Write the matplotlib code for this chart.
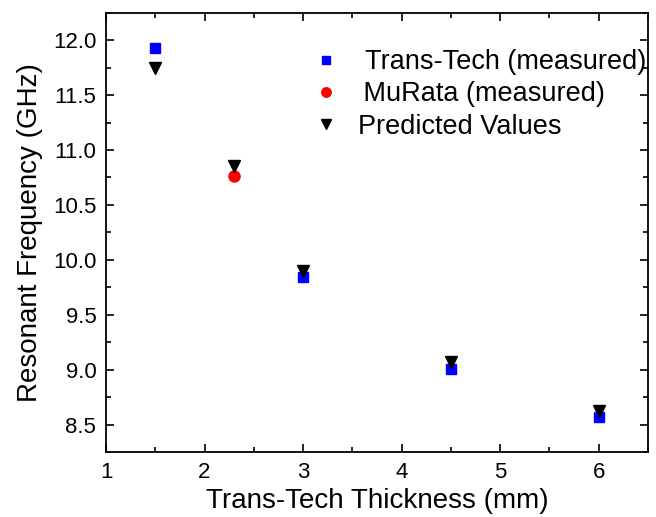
import numpy as np
import matplotlib
matplotlib.use('Agg')
import matplotlib.pyplot as plt
from matplotlib.ticker import MultipleLocator

plt.rcParams['font.family'] = ['Liberation Sans', 'DejaVu Sans']

# thickness (mm) and resonant frequency (GHz)
tt_x = [1.5, 3.0, 4.5, 6.0]
tt_y = [11.93, 9.84, 9.01, 8.57]
mu_x = [2.3]
mu_y = [10.76]
pred_x = [1.5, 2.3, 3.0, 4.5, 6.0]
pred_y = [11.75, 10.85, 9.90, 9.07, 8.62]

fig = plt.figure(figsize=(6.56, 5.17), dpi=100)
ax = fig.add_axes([0.1616, 0.1257, 0.8262, 0.8497])

ax.plot(tt_x, tt_y, 's', color='#0000ff', ms=6.7, mec='#0000ff', label=' Trans-Tech (measured)', zorder=3)
ax.plot(mu_x, mu_y, 'o', color='#ff0000', ms=8, mec='#ff0000', label='\u2009MuRata (measured)', zorder=3)
ax.plot(pred_x, pred_y, 'v', color='black', ms=8.6, label='Predicted Values', zorder=4)

ax.set_xlim(1, 6.5)
ax.set_ylim(8.25, 12.25)
ax.xaxis.set_major_locator(MultipleLocator(1))
ax.xaxis.set_minor_locator(MultipleLocator(0.5))
ax.yaxis.set_major_locator(MultipleLocator(0.5))
ax.yaxis.set_minor_locator(MultipleLocator(0.25))
ax.yaxis.set_major_formatter(matplotlib.ticker.FormatStrFormatter('%.1f'))

ax.tick_params(which='both', direction='in', top=True, right=True, width=1.2)
ax.tick_params(which='major', length=6, labelsize=16, pad=7)
ax.tick_params(which='minor', length=3.5)
for s in ax.spines.values():
    s.set_linewidth(1.3)

ax.set_xlabel('Trans-Tech Thickness (mm)', fontsize=20, labelpad=4)
ax.set_ylabel('Resonant Frequency (GHz)', fontsize=20, labelpad=7)

leg = ax.legend(loc='upper left', bbox_to_anchor=(0.375, 0.917), frameon=False,
                fontsize=19.5, markerscale=0.85, handlelength=1.2,
                handletextpad=0.6, labelspacing=0.23, borderaxespad=0, borderpad=0)

fig.savefig('out.png', dpi=100)
